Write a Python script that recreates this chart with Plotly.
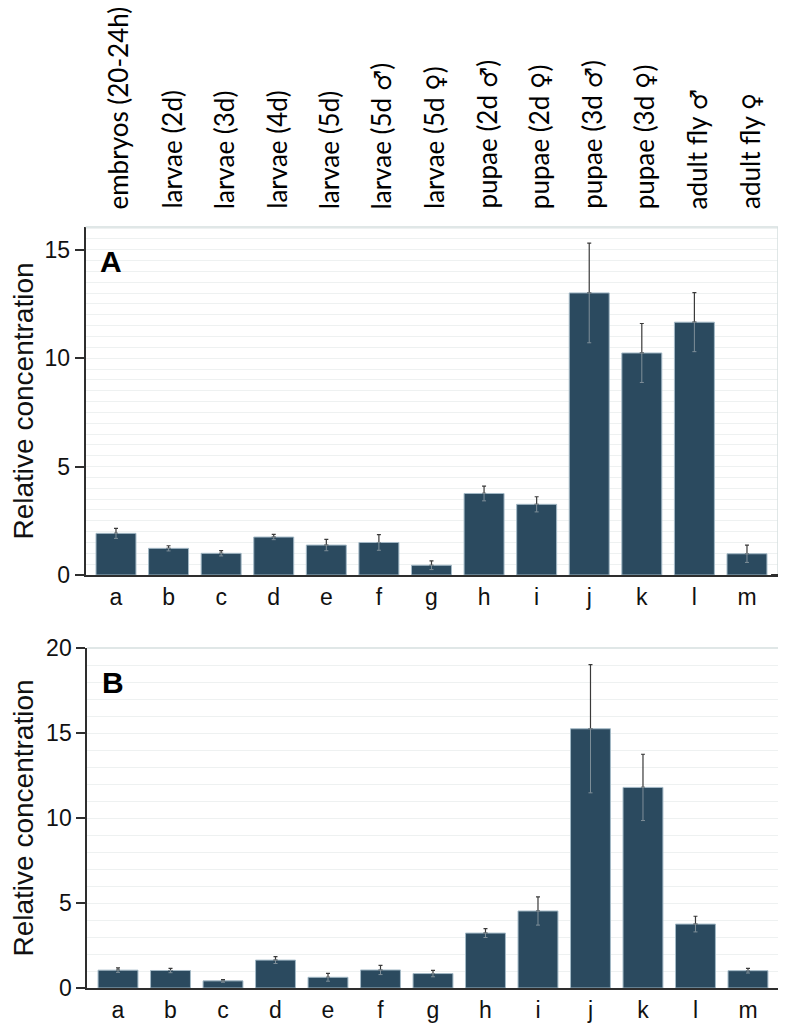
import plotly.graph_objects as go

categories = ["a", "b", "c", "d", "e", "f", "g", "h", "i", "j", "k", "l", "m"]
stage_names = ["embryos (20-24h)", "larvae (2d)", "larvae (3d)", "larvae (4d)", "larvae (5d)",
               "larvae (5d ", "larvae (5d ", "pupae (2d ", "pupae (2d ",
               "pupae (3d ", "pupae (3d ", "adult fly ", "adult fly "]
stage_sex = ["", "", "", "", "", "\u2642", "\u2640", "\u2642", "\u2640", "\u2642", "\u2640", "\u2642", "\u2640"]
stage_close = ["", "", "", "", "", ")", ")", ")", ")", ")", ")", "", ""]

values_a = [1.92, 1.23, 1.00, 1.75, 1.38, 1.50, 0.45, 3.76, 3.26, 13.01, 10.24, 11.66, 0.98]
errors_a = [0.23, 0.12, 0.12, 0.12, 0.26, 0.36, 0.20, 0.34, 0.35, 2.30, 1.36, 1.36, 0.40]
values_b = [1.05, 1.03, 0.42, 1.64, 0.63, 1.06, 0.85, 3.23, 4.53, 15.25, 11.80, 3.76, 1.02]
errors_b = [0.13, 0.13, 0.08, 0.20, 0.23, 0.27, 0.19, 0.26, 0.83, 3.77, 1.95, 0.46, 0.14]

BAR = "#2B4A5F"
EDGE = "#A3B9C6"
ERR_UP = "#3A3A3A"
ERR_DN = "#7F8F99"
GRID = "#EEF1F1"
BORDER = "#D6DFDF"
AXIS = "#2E2E2E"
FONT = "Liberation Sans, Arial, sans-serif"

# the page has an 8px body margin: the figure starts at (8, 8) and fills the rest of the window
OFF = 8
W, H = 786 - OFF, 1025 - OFF

def fx(px):
    return min(max((px - OFF) / W, 0), 1)

def fy(py):
    return min(max(1 - (py - OFF) / H, 0), 1)

fig = go.Figure()

panels = [
    ("x", "y", values_a, errors_a),
    ("x2", "y2", values_b, errors_b),
]
for xa, ya, vals, errs in panels:
    fig.add_trace(go.Bar(
        x=categories, y=vals, xaxis=xa, yaxis=ya, width=0.76,
        marker=dict(color=BAR, line=dict(color=EDGE, width=1)),
        error_y=dict(type="data", array=errs, arrayminus=[0] * len(errs),
                     symmetric=False, color=ERR_UP, thickness=1.2, width=2),
        showlegend=False, hoverinfo="skip"))
    fig.add_trace(go.Scatter(
        x=categories, y=vals, xaxis=xa, yaxis=ya, mode="markers",
        marker=dict(size=1, color="rgba(0,0,0,0)"),
        error_y=dict(type="data", array=[0] * len(errs), arrayminus=errs,
                     symmetric=False, color=ERR_DN, thickness=1, width=2),
        showlegend=False, hoverinfo="skip"))

xa_dom = [fx(85.7), fx(778)]
ya_dom = [fy(575), fy(227)]
xb_dom = [fx(87.3), fx(780)]
yb_dom = [fy(988), fy(648)]

def xaxis(dom, rng, anchor):
    return dict(domain=dom, range=rng, anchor=anchor, showline=True, linecolor=AXIS,
                linewidth=2, ticks="", showgrid=False, zeroline=False, automargin=False,
                tickfont=dict(family=FONT, size=23, color="#111"), ticklabelstandoff=0)

def yaxis(dom, rng, anchor, minor_dt):
    return dict(domain=dom, range=rng, anchor=anchor, showline=True, linecolor=AXIS,
                linewidth=2, ticks="outside", ticklen=9, tickwidth=1.5, tickcolor=AXIS,
                dtick=5, tick0=0, showgrid=True, gridcolor=GRID, gridwidth=1,
                minor=dict(dtick=minor_dt, showgrid=True, gridcolor=GRID, gridwidth=1, ticks=""),
                zeroline=False, automargin=False,
                tickfont=dict(family=FONT, size=23, color="#111"),
                title=dict(text="Relative concentration", font=dict(family=FONT, size=28, color="#111"),
                           standoff=12))

fig.update_layout(
    width=W, height=H, margin=dict(l=0, r=0, t=0, b=0, autoexpand=False),
    paper_bgcolor="white", plot_bgcolor="white", bargap=0.24,
    xaxis=xaxis(xa_dom, [-0.576, 12.59], "y"),
    yaxis=yaxis(ya_dom, [0, 16.05], "x", 0.5),
    xaxis2=xaxis(xb_dom, [-0.585, 12.61], "y2"),
    yaxis2=yaxis(yb_dom, [0, 20], "x2", 1),
)

# light plot frame (top and right)
for xr, yr in [("x domain", "y domain"), ("x2 domain", "y2 domain")]:
    fig.add_shape(type="line", xref=xr, yref=yr, x0=0, x1=1, y0=1, y1=1,
                  line=dict(color=BORDER, width=1.5), layer="above")
    fig.add_shape(type="line", xref=xr, yref=yr, x0=1, x1=1, y0=0, y1=1,
                  line=dict(color=BORDER, width=1.5), layer="above")
# baseline of panel A runs on past the frame
fig.add_shape(type="line", xref="x domain", yref="y domain", x0=0.99, x1=1.012, y0=0, y1=0,
              line=dict(color=AXIS, width=2), layer="above")

# panel letters
fig.add_annotation(text="<b>A</b>", xref="x domain", yref="y domain", x=0.018, y=0.955,
                   xanchor="left", yanchor="top", showarrow=False,
                   font=dict(family=FONT, size=30, color="black"))
fig.add_annotation(text="<b>B</b>", xref="x2 domain", yref="y2 domain", x=0.018, y=0.952,
                   xanchor="left", yanchor="top", showarrow=False,
                   font=dict(family=FONT, size=30, color="black"))

# rotated stage labels above panel A
for cat, name, sex, close in zip(categories, stage_names, stage_sex, stage_close):
    lab = name
    if sex:
        lab += '<span style="font-family:DejaVu Sans;font-size:24px">' + sex + '</span>'
    lab += close
    fig.add_annotation(text=lab, x=cat, xref="x", yref="paper", y=fy(211),
                       xanchor="center", yanchor="bottom", textangle=-90, showarrow=False,
                       xshift=3, font=dict(family="Lato, Open Sans, sans-serif", size=26, color="black"))

fig.write_html("out.html")
